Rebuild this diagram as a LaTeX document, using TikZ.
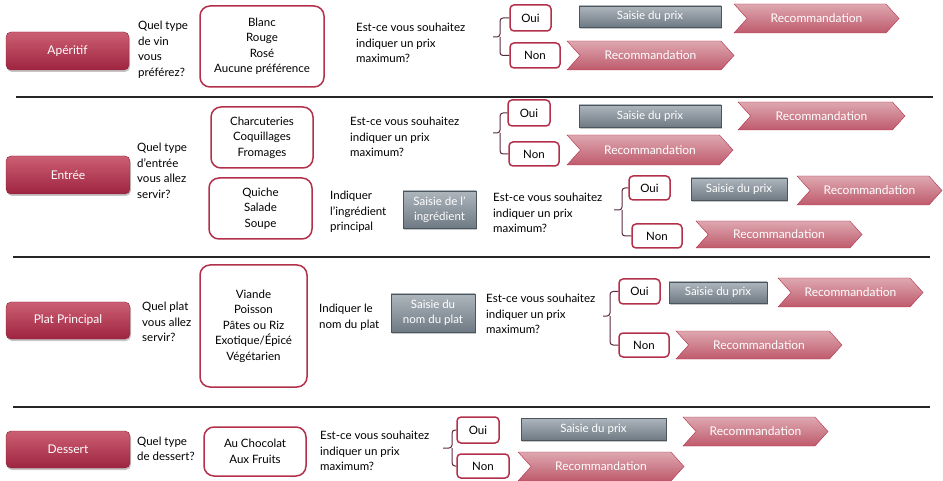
\documentclass[tikz,border=0pt]{standalone}
\usepackage{fontspec}
\setmainfont{Lato}
\usetikzlibrary{shapes.symbols,shadows}
\definecolor{btntop}{HTML}{CC5F73}
\definecolor{btnbot}{HTML}{9E2440}
\definecolor{btnline}{HTML}{8A1F38}
\definecolor{boxline}{HTML}{B3304A}
\definecolor{chevtop}{HTML}{DDA8B0}
\definecolor{chevbot}{HTML}{BF5A6C}
\definecolor{greytop}{HTML}{AEB6BD}
\definecolor{greybot}{HTML}{6E7A84}
\definecolor{bracecol}{HTML}{5B2A42}

\begin{document}
\begin{tikzpicture}[x=1pt,y=-1pt,font=\fontsize{11.5}{15.5}\selectfont,
  wh/.style 2 args={minimum width=#1pt,minimum height=#2pt},
  course/.style={rounded corners=5pt,draw=btnline,top color=btntop,bottom color=btnbot,
    text=white,inner sep=0pt,font=\fontsize{12}{15}\selectfont,
    drop shadow={opacity=0.45,shadow xshift=1pt,shadow yshift=-2pt}},
  question/.style={anchor=west,align=left,inner sep=0pt},
  choices/.style={draw=boxline,line width=1.5pt,rounded corners=10pt,fill=white,align=center,inner sep=0pt},
  answer/.style={draw=boxline,line width=1.5pt,rounded corners=4pt,fill=white,inner sep=0pt},
  entry/.style={draw=greybot!70!black,top color=greytop,bottom color=greybot,text=white,
    align=center,inner sep=0pt,font=\fontsize{11.5}{15}\selectfont,
    drop shadow={opacity=0.45,shadow xshift=1pt,shadow yshift=-2pt}},
  reco/.style={signal,signal from=west,signal to=east,signal pointer angle=96,draw=boxline,
    top color=chevtop,bottom color=chevbot,text=white,inner sep=0pt,font=\fontsize{12}{15}\selectfont},
  bracket/.style={draw=bracecol,line width=1pt,rounded corners=3pt},
  separator/.style={draw=black!85,line width=2pt}]

  \useasboundingbox (0,0) rectangle (943,481);

  \node[course,wh={123}{38}] (aperitif) at (67.5,51) {Apéritif};
  \node[question] (q1) at (138,50) {Quel type\\de vin\\vous\\préférez?};
  \node[choices,wh={124}{81}] (vins) at (262,46.5) {Blanc\\Rouge\\Rosé\\Aucune préférence};
  \node[question] (prix1) at (356,43) {Est-ce vous souhaitez\\indiquer un prix\\maximum?};
  \node[answer,wh={41}{26}] (oui1) at (530.5,18) {Oui};
  \node[answer,wh={50}{25}] (non1) at (535,55.5) {Non};
  \node[entry,wh={142}{21}] (saisie1) at (650,16.5) {Saisie du prix};
  \node[reco,wh={165}{29}] (reco1a) at (816.5,18.5) {Recommandation};
  \node[reco,wh={167}{29}] (reco1b) at (650.5,55.5) {Recommandation};
  \coordinate (b1) at (500,37);
  \draw[bracket] (oui1.west) -| (b1) -- ++(-7,0);
  \draw[bracket] (non1.west) -| (b1);

  \draw[separator] (16,97) -- (933,97);

  \node[course,wh={124}{38}] (entree) at (68,175) {Entrée};
  \node[question] (q2) at (137,171) {Quel type\\d’entrée\\vous allez\\servir?};
  \node[choices,wh={102}{61}] (froids) at (262,137.5) {Charcuteries\\Coquillages\\Fromages};
  \node[choices,wh={103}{61}] (chauds) at (260.5,208.5) {Quiche\\Salade\\Soupe};
  \node[question] (prix2a) at (350,137) {Est-ce vous souhaitez\\indiquer un prix\\maximum?};
  \node[question] (ingr) at (330,212) {Indiquer\\l’ingrédient\\principal};
  \node[entry,wh={73}{37}] (saisieingr) at (439.5,209.5) {Saisie de l’\\ingrédient};
  \node[answer,wh={42}{26}] (oui2a) at (529,113) {Oui};
  \node[answer,wh={50}{24}] (non2a) at (534,154) {Non};
  \node[entry,wh={142}{22}] (saisie2a) at (650,116) {Saisie du prix};
  \node[reco,wh={167}{28}] (reco2a) at (821.5,116) {Recommandation};
  \node[reco,wh={166}{30}] (reco2b) at (650,150) {Recommandation};
  \coordinate (b2a) at (500,133);
  \draw[bracket] (oui2a.west) -| (b2a) -- ++(-7,0);
  \draw[bracket] (non2a.west) -| (b2a);
  \node[question] (prix2b) at (493,213) {Est-ce vous souhaitez\\indiquer un prix\\maximum?};
  \node[answer,wh={41}{24}] (oui2b) at (649.5,188) {Oui};
  \node[answer,wh={50}{24}] (non2b) at (657,236) {Non};
  \node[entry,wh={96}{22}] (saisie2b) at (739,189) {Saisie du prix};
  \node[reco,wh={145}{29}] (reco2c) at (869.5,190.5) {Recommandation};
  \node[reco,wh={166}{27}] (reco2d) at (779,234.5) {Recommandation};
  \coordinate (b2b) at (622,210);
  \draw[bracket] (oui2b.west) -| (b2b) -- ++(-8,0);
  \draw[bracket] (non2b.west) -| (b2b);

  \draw[separator] (13,257) -- (930,257);

  \node[course,wh={124}{37}] (plat) at (68,320.5) {Plat Principal};
  \node[question] (q3) at (142,322) {Quel plat\\vous allez\\servir?};
  \node[choices,wh={107}{122}] (plats) at (253.5,326) {Viande\\Poisson\\Pâtes ou Riz\\Exotique/Épicé\\Végétarien};
  \node[question] (nom) at (319,317.5) {Indiquer le\\nom du plat};
  \node[entry,wh={84}{38}] (saisienom) at (433,313) {Saisie du\\nom du plat};
  \node[question] (prix3) at (486,314) {Est-ce vous souhaitez\\indiquer un prix\\maximum?};
  \node[answer,wh={41}{25}] (oui3) at (639.5,291.5) {Oui};
  \node[answer,wh={50}{24}] (non3) at (644,345) {Non};
  \node[entry,wh={98}{21}] (saisie3) at (718,292.5) {Saisie du prix};
  \node[reco,wh={145}{29}] (reco3a) at (850.5,292.5) {Recommandation};
  \node[reco,wh={166}{28}] (reco3b) at (759,345) {Recommandation};
  \coordinate (b3) at (610,316);
  \draw[bracket] (oui3.west) -| (b3) -- ++(-7,0);
  \draw[bracket] (non3.west) -| (b3);

  \draw[separator] (13,407) -- (930,407);

  \node[course,wh={124}{37}] (dessert) at (68,449.5) {Dessert};
  \node[question] (q4) at (137,449) {Quel type\\de dessert?};
  \node[choices,wh={102}{49}] (desserts) at (255,451.5) {Au Chocolat\\Aux Fruits};
  \node[question] (prix4) at (320,451) {Est-ce vous souhaitez\\indiquer un prix\\maximum?};
  \node[answer,wh={42}{26}] (oui4) at (478,430) {Oui};
  \node[answer,wh={52}{24}] (non4) at (483,466) {Non};
  \node[entry,wh={145}{22}] (saisie4) at (593.5,429) {Saisie du prix};
  \node[reco,wh={145}{29}] (reco4a) at (755.5,431.5) {Recommandation};
  \node[reco,wh={166}{29}] (reco4b) at (601,466.5) {Recommandation};
  \coordinate (b4) at (452,448);
  \draw[bracket] (oui4.west) -| (b4) -- ++(-9,0);
  \draw[bracket] (non4.west) -| (b4);

\end{tikzpicture}
\end{document}
